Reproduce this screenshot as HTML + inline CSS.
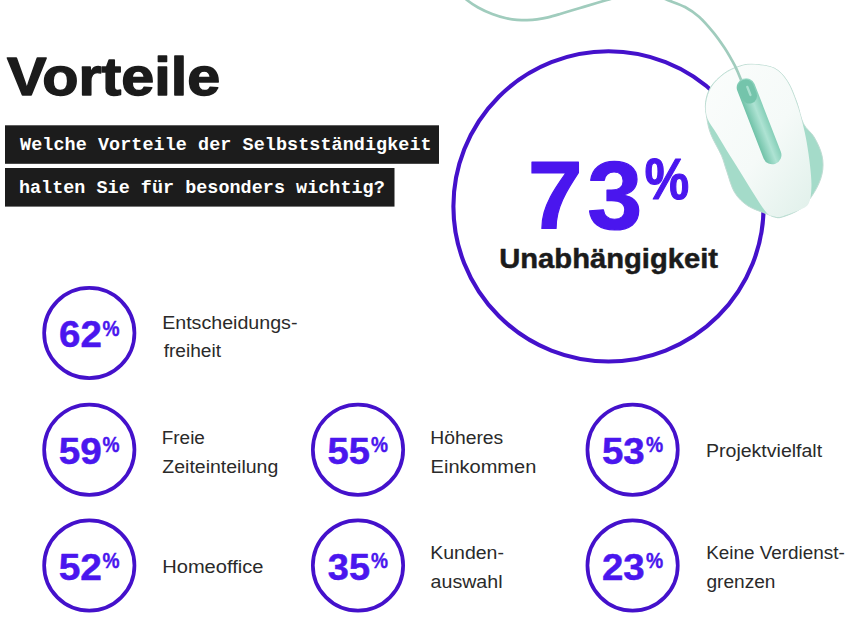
<!DOCTYPE html>
<html lang="de">
<head>
<meta charset="utf-8">
<title>Vorteile</title>
<style>
  html,body{margin:0;padding:0;background:#ffffff;}
  body{width:853px;height:642px;overflow:hidden;font-family:"Liberation Sans",sans-serif;}
  svg{display:block;}
  text{font-family:"Liberation Sans",sans-serif;}
  .mono{font-family:"Liberation Mono",monospace;}
  .title{font-weight:700;fill:#1b1b1b;stroke:#1b1b1b;stroke-width:1.4px;stroke-linejoin:round;}
  .q{font-weight:700;fill:#ffffff;}
  .num{font-weight:700;fill:#4a16ee;stroke:#4a16ee;stroke-linejoin:round;}
  .una{font-weight:700;fill:#1b1b1b;stroke:#1b1b1b;stroke-width:0.5px;stroke-linejoin:round;}
  .lbl{fill:#2a2a2a;}
  .ring{fill:none;stroke:#4411cb;}
</style>
</head>
<body>
<svg width="853" height="642" viewBox="0 0 853 642">
  <rect width="853" height="642" fill="#ffffff"/>

  <text class="title" x="6.99" y="94.90" font-size="54" textLength="213.25" lengthAdjust="spacingAndGlyphs" >Vorteile</text>
  <rect x="5" y="125.3" width="434" height="38.5" fill="#1c1c1c"/>
  <rect x="5" y="168" width="389.5" height="38.6" fill="#1c1c1c"/>
  <text class="mono q" x="20.00" y="150.30" font-size="18.4" textLength="411.60" lengthAdjust="spacing" >Welche Vorteile der Selbstständigkeit</text>
  <text class="mono q" x="18.92" y="193.30" font-size="18.4" textLength="365.77" lengthAdjust="spacing" >halten Sie für besonders wichtig?</text>
  <circle class="ring" cx="608.5" cy="206.4" r="155.1" stroke-width="4.1"/>
  <text class="num" x="527.84" y="228.50" font-size="96" textLength="54.99" lengthAdjust="spacingAndGlyphs" stroke-width="1.2">7</text>
  <text class="num" x="587.19" y="228.50" font-size="96" textLength="55.08" lengthAdjust="spacingAndGlyphs" stroke-width="1.2">3</text>
  <text class="num" x="644.85" y="199.20" font-size="57" textLength="44.35" lengthAdjust="spacingAndGlyphs" stroke-width="1.2">%</text>
  <text class="una" x="499.21" y="268.00" font-size="28.2" textLength="218.85" lengthAdjust="spacingAndGlyphs" >Unabhängigkeit</text>
  <!-- cable -->
  <path d="M462.0 -5.5 C462.8 -4.6 464.2 -2.2 466.9 0.0 C469.6 2.2 473.9 5.2 478.1 7.5 C482.3 9.8 487.5 12.3 492.2 14.1 C496.9 15.9 502.2 17.4 506.3 18.3 C510.4 19.2 513.5 19.5 517.0 19.8 C520.5 20.1 523.7 20.3 527.0 20.2 C530.3 20.1 533.5 19.9 537.0 19.4 C540.5 18.9 544.2 18.3 548.0 17.4 C551.8 16.5 554.7 15.6 560.0 14.0 C565.3 12.4 573.8 9.9 580.0 8.0 C586.2 6.1 593.0 4.1 597.5 2.8 C602.0 1.5 603.9 0.9 607.0 0.0 C610.1 -0.9 614.5 -2.3 616.0 -2.8 " fill="none" stroke="#a0ccbd" stroke-width="2.7" stroke-linecap="round"/>
  <!-- mouse -->
  <defs>
    <linearGradient id="mb" x1="0" y1="0" x2="1" y2="1">
      <stop offset="0" stop-color="#fbfdfc"/>
      <stop offset="0.55" stop-color="#f5faf8"/>
      <stop offset="1" stop-color="#e0f0ea"/>
    </linearGradient>
    <linearGradient id="mg" x1="0" y1="0" x2="0" y2="1">
      <stop offset="0" stop-color="#86cfb8"/>
      <stop offset="0.42" stop-color="#aee3d3"/>
      <stop offset="1" stop-color="#70c2a8"/>
    </linearGradient>
  </defs>
  <path d="M751.9 64.3 C758.1 64.5 768.4 65.4 774.4 68.2 C780.3 71.1 783.9 75.7 787.6 81.5 C791.4 87.2 794.2 95.6 796.9 102.6 C799.5 109.7 800.6 118.1 803.5 123.8 C806.4 129.5 811.0 131.7 814.1 137.0 C817.2 142.3 820.7 149.4 822.0 155.6 C823.4 161.7 823.4 167.9 822.0 174.1 C820.7 180.3 817.6 186.9 814.1 192.6 C810.6 198.4 806.2 204.4 800.9 208.5 C795.6 212.6 786.7 215.6 782.3 217.0 C777.9 218.4 777.0 217.5 774.4 217.0 C771.7 216.4 770.9 215.6 766.5 213.8 C762.0 211.9 753.2 209.4 747.9 205.9 C742.6 202.3 738.2 198.4 734.7 192.6 C731.2 186.9 729.0 177.6 726.8 171.4 C724.6 165.3 724.1 161.7 721.5 155.6 C718.8 149.4 713.3 140.6 710.9 134.4 C708.5 128.2 707.8 123.8 706.9 118.5 C706.0 113.2 704.9 107.9 705.6 102.6 C706.2 97.3 707.8 91.6 710.9 86.8 C714.0 81.9 719.7 76.8 724.1 73.5 C728.5 70.2 732.7 68.5 737.3 66.9 C742.0 65.4 745.7 64.0 751.9 64.3 Z" fill="#a4dbc9" stroke="#bfdcd3" stroke-width="1"/>
  <path d="M751.9 64.5 C758.0 64.7 768.5 65.6 774.4 68.5 C780.3 71.4 783.7 76.0 787.4 81.7 C791.1 87.5 794.1 95.9 796.6 102.9 C799.2 109.9 801.0 117.2 802.7 123.8 C804.4 130.4 805.4 135.3 806.7 142.3 C807.9 149.4 809.3 158.7 810.1 166.2 C810.9 173.7 811.7 181.1 811.4 187.3 C811.2 193.5 810.7 199.5 808.8 203.2 C806.9 206.9 804.7 207.4 800.3 209.6 C795.9 211.8 786.7 215.3 782.3 216.4 C778.0 217.6 777.0 217.0 774.4 216.4 C771.8 215.9 770.0 216.3 767.0 213.3 C764.0 210.2 760.4 204.0 756.4 197.9 C752.4 191.8 747.6 183.8 743.2 176.7 C738.8 169.7 734.3 162.6 729.9 155.6 C725.6 148.5 721.0 140.6 717.2 134.4 C713.5 128.2 709.3 123.8 707.4 118.5 C705.6 113.2 705.5 107.9 706.1 102.6 C706.8 97.4 708.4 91.8 711.4 87.0 C714.5 82.2 720.0 77.1 724.4 73.8 C728.7 70.5 733.0 68.7 737.6 67.2 C742.2 65.6 745.8 64.3 751.9 64.5 Z" fill="url(#mb)"/>
  <path d="M662.0 -2.5 C662.9 -2.1 663.7 -1.6 667.5 0.0 C671.3 1.6 679.8 4.2 685.0 7.0 C690.2 9.8 694.3 12.6 699.0 16.8 C703.7 21.0 708.9 27.1 713.1 32.2 C717.3 37.3 721.0 42.7 724.3 47.6 C727.6 52.5 730.6 58.0 732.7 61.7 C734.8 65.4 735.5 67.0 736.9 70.0 C738.3 73.0 740.1 77.6 741.1 79.9 C742.1 82.2 742.7 83.3 743.0 84.0 " fill="none" stroke="#a0ccbd" stroke-width="2.7" stroke-linecap="round"/>
  <g transform="translate(746.0 87.4) rotate(68.8)">
    <rect x="-9.2" y="-9.2" width="91.0" height="18.5" rx="9.2" fill="url(#mg)"/>
    <rect x="-8.2" y="-7.8" width="25.0" height="15.5" rx="7.8" fill="#74c4ab"/>
    <rect x="-1.2" y="-2.6" width="11.0" height="2.4" rx="1.2" fill="#a9e0cf"/>
  </g>

  <circle class="ring" cx="89.3" cy="333.0" r="45.15" stroke-width="3.7"/>
  <text class="num" x="59.12" y="347.30" font-size="36" textLength="42.73" lengthAdjust="spacingAndGlyphs" stroke-width="0.5">62</text>
  <text class="num" x="102.54" y="335.70" font-size="21.5" textLength="17.03" lengthAdjust="spacingAndGlyphs" stroke-width="0.4">%</text>
  <circle class="ring" cx="89.3" cy="449.7" r="45.15" stroke-width="3.7"/>
  <text class="num" x="58.72" y="464.00" font-size="36" textLength="42.98" lengthAdjust="spacingAndGlyphs" stroke-width="0.5">59</text>
  <text class="num" x="102.54" y="452.40" font-size="21.5" textLength="17.03" lengthAdjust="spacingAndGlyphs" stroke-width="0.4">%</text>
  <circle class="ring" cx="89.3" cy="565.5" r="45.15" stroke-width="3.7"/>
  <text class="num" x="58.71" y="579.80" font-size="36" textLength="43.21" lengthAdjust="spacingAndGlyphs" stroke-width="0.5">52</text>
  <text class="num" x="102.54" y="568.20" font-size="21.5" textLength="17.03" lengthAdjust="spacingAndGlyphs" stroke-width="0.4">%</text>
  <circle class="ring" cx="358.0" cy="449.7" r="45.15" stroke-width="3.7"/>
  <text class="num" x="327.63" y="464.00" font-size="36" textLength="42.39" lengthAdjust="spacingAndGlyphs" stroke-width="0.5">55</text>
  <text class="num" x="371.01" y="452.40" font-size="21.5" textLength="16.97" lengthAdjust="spacingAndGlyphs" stroke-width="0.4">%</text>
  <circle class="ring" cx="358.0" cy="565.5" r="45.15" stroke-width="3.7"/>
  <text class="num" x="327.89" y="579.80" font-size="36" textLength="42.11" lengthAdjust="spacingAndGlyphs" stroke-width="0.5">35</text>
  <text class="num" x="371.01" y="568.20" font-size="21.5" textLength="16.97" lengthAdjust="spacingAndGlyphs" stroke-width="0.4">%</text>
  <circle class="ring" cx="632.6" cy="449.7" r="45.15" stroke-width="3.7"/>
  <text class="num" x="602.02" y="464.00" font-size="36" textLength="42.69" lengthAdjust="spacingAndGlyphs" stroke-width="0.5">53</text>
  <text class="num" x="645.89" y="452.40" font-size="21.5" textLength="17.14" lengthAdjust="spacingAndGlyphs" stroke-width="0.4">%</text>
  <circle class="ring" cx="632.6" cy="565.5" r="45.15" stroke-width="3.7"/>
  <text class="num" x="602.01" y="579.80" font-size="36" textLength="42.70" lengthAdjust="spacingAndGlyphs" stroke-width="0.5">23</text>
  <text class="num" x="645.89" y="568.20" font-size="21.5" textLength="17.14" lengthAdjust="spacingAndGlyphs" stroke-width="0.4">%</text>
  <text class="lbl" x="162.16" y="328.70" font-size="18.3" textLength="135.26" lengthAdjust="spacingAndGlyphs" >Entscheidungs-</text>
  <text class="lbl" x="163.65" y="356.60" font-size="18.3" textLength="57.41" lengthAdjust="spacingAndGlyphs" >freiheit</text>
  <text class="lbl" x="161.74" y="443.50" font-size="18.3" textLength="43.14" lengthAdjust="spacingAndGlyphs" >Freie</text>
  <text class="lbl" x="162.38" y="472.70" font-size="18.3" textLength="115.85" lengthAdjust="spacingAndGlyphs" >Zeiteinteilung</text>
  <text class="lbl" x="162.23" y="573.40" font-size="18.3" textLength="101.23" lengthAdjust="spacingAndGlyphs" >Homeoffice</text>
  <text class="lbl" x="430.29" y="443.50" font-size="18.3" textLength="72.96" lengthAdjust="spacingAndGlyphs" >Höheres</text>
  <text class="lbl" x="430.63" y="472.70" font-size="18.3" textLength="105.70" lengthAdjust="spacingAndGlyphs" >Einkommen</text>
  <text class="lbl" x="430.27" y="558.60" font-size="18.3" textLength="73.62" lengthAdjust="spacingAndGlyphs" >Kunden-</text>
  <text class="lbl" x="430.59" y="587.70" font-size="18.3" textLength="71.94" lengthAdjust="spacingAndGlyphs" >auswahl</text>
  <text class="lbl" x="706.01" y="457.20" font-size="18.3" textLength="116.13" lengthAdjust="spacingAndGlyphs" >Projektvielfalt</text>
  <text class="lbl" x="706.15" y="559.00" font-size="18.3" textLength="138.56" lengthAdjust="spacingAndGlyphs" >Keine Verdienst-</text>
  <text class="lbl" x="706.47" y="587.80" font-size="18.3" textLength="68.98" lengthAdjust="spacingAndGlyphs" >grenzen</text>
</svg>
</body>
</html>
